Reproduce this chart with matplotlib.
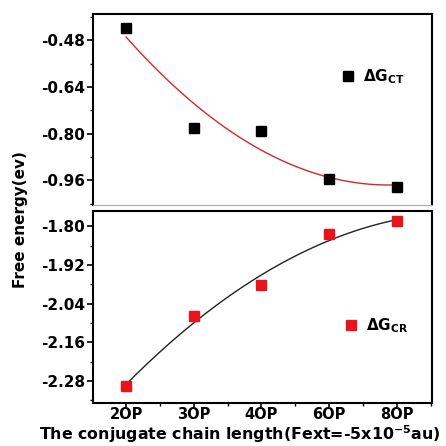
import numpy as np
import matplotlib
matplotlib.use("Agg")
import matplotlib.pyplot as plt
from matplotlib.ticker import MultipleLocator

plt.rcParams['font.family'] = ['DejaVu Sans']
plt.rcParams['font.weight'] = 'bold'
plt.rcParams['axes.labelweight'] = 'bold'
plt.rcParams['mathtext.fontset'] = 'dejavusans'
plt.rcParams['mathtext.default'] = 'bf'

# data
chains = ['2OP', '3OP', '4OP', '6OP', '8OP']
dg_ct = [-0.439, -0.780, -0.790, -0.957, -0.984]
dg_cr = [-2.296, -2.077, -1.982, -1.825, -1.784]

x = np.arange(len(chains))
xs = np.linspace(0, len(chains) - 1, 200)

fig = plt.figure(figsize=(4.46, 4.46), dpi=100)
ax1 = fig.add_axes([0.2085, 0.5404, 0.760, 0.4283])
ax2 = fig.add_axes([0.2085, 0.0964, 0.760, 0.4310])

# top panel: charge transfer
fit1 = np.polyfit(x, dg_ct, 2)
ax1.plot(xs, np.polyval(fit1, xs), color='#d62728', lw=1.0)
ax1.plot(x, dg_ct, 's', color='black', ms=6.5, label=r'$\Delta G_{CT}$', linestyle='none')
ax1.set_ylim(-1.045, -0.39)
ax1.set_xlim(-0.49, 4.52)
ax1.set_yticks([-0.48, -0.64, -0.80, -0.96])
ax1.set_yticklabels(['-0.48', '-0.64', '-0.80', '-0.96'])
ax1.yaxis.set_minor_locator(MultipleLocator(0.08))
ax1.tick_params(axis='x', which='both', bottom=False, labelbottom=False)
ax1.spines['bottom'].set_color('#aaaaaa')
ax1.spines['bottom'].set_linewidth(0.8)
ax1.legend(loc='center', bbox_to_anchor=(0.825, 0.67), frameon=False,
           fontsize=11, handletextpad=0.5, handlelength=1.0)

# bottom panel: charge recombination
fit2 = np.polyfit(x, dg_cr, 2)
ax2.plot(xs, np.polyval(fit2, xs), color='#222222', lw=1.0)
ax2.plot(x, dg_cr, 's', color='#e8141b', ms=6.5, label=r'$\Delta G_{CR}$', linestyle='none')
ax2.set_ylim(-2.348, -1.752)
ax2.set_xlim(-0.49, 4.52)
ax2.set_yticks([-1.80, -1.92, -2.04, -2.16, -2.28])
ax2.set_yticklabels(['-1.80', '-1.92', '-2.04', '-2.16', '-2.28'])
ax2.yaxis.set_minor_locator(MultipleLocator(0.06))
ax2.set_xticks(x)
ax2.set_xticklabels(chains)
ax2.xaxis.set_minor_locator(MultipleLocator(0.5))
ax2.legend(loc='center', bbox_to_anchor=(0.835, 0.40), frameon=False,
           fontsize=11, handletextpad=0.5, handlelength=1.0)

for ax in (ax1, ax2):
    ax.tick_params(axis='both', which='major', direction='out', length=4, width=1.2,
                   labelsize=11, pad=1.5)
    ax.tick_params(axis='both', which='minor', direction='out', length=2.5, width=1.0)
    ax.tick_params(axis='y', which='both', right=False)
    ax.tick_params(axis='x', which='both', top=False)
    for s in ('top', 'left', 'right'):
        ax.spines[s].set_linewidth(1.5)
ax2.spines['bottom'].set_linewidth(1.5)
ax2.tick_params(axis='x', which='major', pad=0, length=3, labelsize=10.5)

fig.text(0.045, 0.507, 'Free energy(ev)', rotation=90, ha='center', va='center',
         fontsize=11, fontweight='bold')
fig.text(0.538, 0.013, r'The conjugate chain length(Fext=-5x10$^{-5}$au)',
         ha='center', va='baseline', fontsize=11.4, fontweight='bold')

fig.savefig('out.png', dpi=100)
